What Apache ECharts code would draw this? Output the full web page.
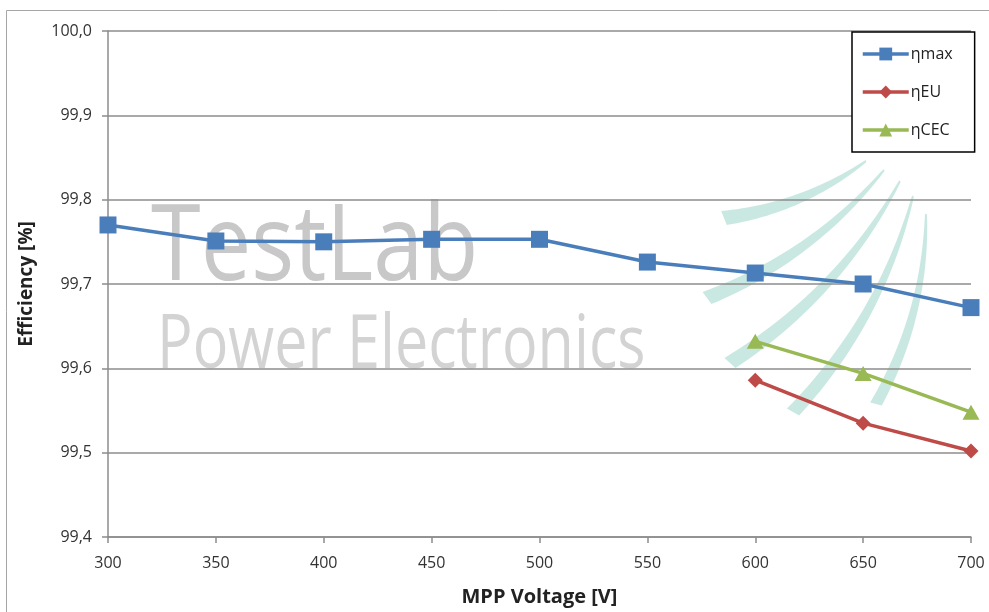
<!DOCTYPE html>
<html>
<head>
<meta charset="utf-8">
<script src="https://cdn.jsdelivr.net/npm/echarts@6/dist/echarts.min.js"></script>
<style>html,body{margin:0;padding:0;background:#fff;}#chart{width:989px;height:612px;}</style>
</head>
<body>
<div id="chart"></div>
<script>
const voltages = [300, 350, 400, 450, 500, 550, 600, 650, 700];
const etaMax = [99.770, 99.751, 99.750, 99.753, 99.753, 99.726, 99.713, 99.700, 99.672];
const euVoltages = [600, 650, 700];
const etaEU = [99.586, 99.535, 99.502];
const etaCEC = [99.632, 99.594, 99.548];
const seriesNames = ['ηmax', 'ηEU', 'ηCEC'];
const yTicks = [99.4, 99.5, 99.6, 99.7, 99.8, 99.9, 100.0];
const xTicks = [300, 350, 400, 450, 500, 550, 600, 650, 700];

const FONT = 'Open Sans';

// decorative watermark arcs (background logo)
const arcs = [
  {t:[866,161], e:[724,218], w:15},
  {t:[884,170], e:[707,298], w:15},
  {t:[900,181], e:[730,363], w:15},
  {t:[913,196], e:[793,412], w:14},
  {t:[926,214], e:[876,404], w:12}
];
function arcPolygon(a) {
  const [tx,ty] = a.t, [ex,ey] = a.e;
  const dx = ex-tx, dy = ey-ty, L = Math.hypot(dx,dy);
  let nx = -dy/L, ny = dx/L;
  if (nx + ny < 0) { nx = -nx; ny = -ny; }
  const bow = 0.13*L;
  const cx = (tx+ex)/2 + nx*bow, cy = (ty+ey)/2 + ny*bow;
  const pts1 = [], pts2 = [];
  const N = 30;
  for (let i=0;i<=N;i++){
    const s = i/N;
    const px = (1-s)*(1-s)*tx + 2*(1-s)*s*cx + s*s*ex;
    const py = (1-s)*(1-s)*ty + 2*(1-s)*s*cy + s*s*ey;
    const hw = (1 + (a.w/2 - 1)*Math.pow(s, 0.8));
    pts1.push([px + nx*hw, py + ny*hw]);
    pts2.push([px - nx*hw, py - ny*hw]);
  }
  return pts1.concat(pts2.reverse());
}

const graphics = [
  {type:'rect', z:-20, shape:{x:6.5, y:10.5, width:1000, height:700}, style:{fill:'#fff', stroke:'#a6a6a6', lineWidth:1}, silent:true},
  {type:'text', z:-10, x:151, y:197, scaleX:0.85, style:{text:'TestLab', font:'400 106px "Open Sans"', fill:'#c8c8c8', textVerticalAlign:'top'}, silent:true},
  {type:'text', z:-10, x:157, y:309, scaleX:0.79, style:{text:'Power Electronics', font:'400 75px "Open Sans"', fill:'#d3d3d3', textVerticalAlign:'top'}, silent:true}
];
arcs.forEach(a => graphics.push({type:'polygon', z:-10, shape:{points:arcPolygon(a)}, style:{fill:'#cae8e2'}, silent:true}));

const chart = echarts.init(document.getElementById('chart'), null, {renderer:'canvas'});
chart.setOption({
  backgroundColor:'#fff',
  animation:false,
  textStyle:{fontFamily:FONT},
  graphic: graphics,
  grid:{left:108, right:18, top:31, bottom:71, containLabel:false},
  legend:{
    orient:'vertical', left:852, top:32,
    padding:[14, 22, 14, 9],
    itemGap:22, itemWidth:46, itemHeight:16,
    backgroundColor:'#fff', borderColor:'#000', borderWidth:1.5, borderRadius:0,
    lineStyle:{width:3.5},
    textStyle:{fontFamily:FONT, fontSize:16, color:'#222', padding:[0,0,0,-3]},
    data:seriesNames
  },
  xAxis:{
    type:'value', min:300, max:700, interval:50,
    name:'MPP Voltage [V]', nameLocation:'middle', nameGap:50,
    nameTextStyle:{fontFamily:FONT, fontWeight:'bold', fontSize:20, color:'#222'},
    axisLine:{show:true, lineStyle:{color:'#8c8c8c', width:1.5}},
    axisTick:{show:true, length:6, lineStyle:{color:'#8c8c8c', width:1.5}},
    axisLabel:{fontFamily:FONT, fontSize:16, color:'#333', margin:18, formatter: v => String(v)},
    splitLine:{show:false}
  },
  yAxis:{
    type:'value', min:99.4, max:100.0, interval:0.1,
    name:'Efficiency [%]', nameLocation:'middle', nameGap:72, nameRotate:90,
    nameTextStyle:{fontFamily:FONT, fontWeight:'bold', fontSize:19, color:'#222'},
    axisLine:{show:true, lineStyle:{color:'#8c8c8c', width:1.5}},
    axisTick:{show:true, length:6, lineStyle:{color:'#8c8c8c', width:1.5}},
    axisLabel:{fontFamily:FONT, fontSize:16, color:'#333', margin:16,
      formatter: v => v.toFixed(1).replace('.', ',')},
    splitLine:{show:true, lineStyle:{color:'#8c8c8c', width:1.5}}
  },
  series:[
    {name:seriesNames[0], type:'line', z:5, data: voltages.map((v,i)=>[v, etaMax[i]]),
     symbol:'rect', symbolSize:17, itemStyle:{color:'#4a7ebb'}, lineStyle:{color:'#4a7ebb', width:3.5}},
    {name:seriesNames[1], type:'line', z:5, data: euVoltages.map((v,i)=>[v, etaEU[i]]),
     symbol:'diamond', symbolSize:[15,15], itemStyle:{color:'#be4b48'}, lineStyle:{color:'#be4b48', width:3.5}},
    {name:seriesNames[2], type:'line', z:5, data: euVoltages.map((v,i)=>[v, etaCEC[i]]),
     symbol:'triangle', symbolSize:[17,15], itemStyle:{color:'#98b954'}, lineStyle:{color:'#98b954', width:3.5}}
  ]
});
</script>
</body>
</html>
